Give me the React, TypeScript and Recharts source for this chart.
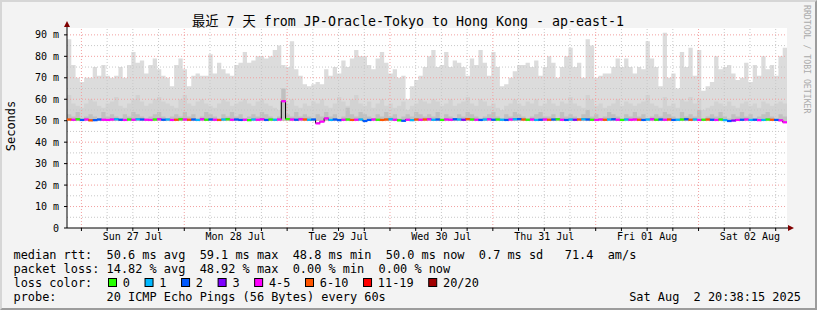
import React from 'react'
import { ComposedChart, Area, Line, Scatter, XAxis, YAxis, ReferenceLine, CartesianGrid } from 'recharts'

// hours since Sat 26 Jul 00:00; graph ends Sat Aug 2 20:38:15
const START_H = 20.6375
const SPAN_H = 168

// smoke (ms), one value per hour
const MAX_RTT = [
  88, 76, 70, 68, 70, 70, 75, 71, 76, 71, 70, 71, 75, 70, 76, 82, 77, 78, 72, 76, 79, 74, 71, 70, 66, 76, 79, 74,
  66, 71, 72, 71, 71, 81, 72, 77, 74, 72, 71, 76, 77, 82, 77, 78, 80, 80, 79, 80, 83, 85, 76, 75, 87, 74, 71, 67,
  66, 67, 68, 67, 74, 71, 75, 72, 78, 75, 79, 83, 80, 80, 76, 74, 79, 82, 77, 72, 74, 70, 71, 60, 66, 69, 71, 75,
  80, 83, 75, 76, 82, 75, 78, 77, 75, 71, 79, 76, 83, 77, 71, 82, 75, 66, 67, 70, 73, 76, 76, 77, 75, 78, 71, 75,
  80, 77, 70, 75, 80, 84, 75, 77, 70, 88, 85, 70, 71, 72, 72, 75, 79, 75, 79, 75, 72, 75, 74, 87, 79, 75, 66, 91,
  70, 72, 65, 82, 75, 84, 71, 83, 64, 66, 68, 80, 74, 75, 76, 72, 69, 70, 77, 68, 76, 71, 80, 74, 76, 71, 80, 84,
]
const MID_RTT = [
  62, 58, 57, 56, 58, 60, 59, 57, 56, 58, 59, 61, 57, 56, 58, 60, 62, 59, 57, 58, 60, 61, 59, 58, 57, 56, 60, 62,
  58, 57, 59, 60, 58, 57, 56, 58, 60, 59, 57, 58, 59, 60, 58, 57, 59, 60, 58, 57, 56, 55, 65, 58, 60, 57, 56, 58,
  57, 59, 58, 60, 57, 56, 58, 61, 59, 57, 60, 62, 58, 57, 59, 56, 58, 60, 57, 58, 56, 57, 59, 55, 57, 58, 60, 59,
  58, 60, 59, 57, 58, 60, 57, 58, 59, 61, 58, 57, 60, 59, 57, 58, 56, 55, 57, 58, 60, 58, 57, 59, 58, 60, 57, 58,
  60, 58, 57, 59, 58, 61, 58, 57, 56, 62, 60, 57, 58, 56, 57, 58, 60, 57, 59, 58, 57, 58, 59, 62, 58, 57, 56, 61,
  57, 58, 56, 60, 59, 61, 58, 60, 55, 56, 57, 59, 58, 57, 59, 57, 56, 58, 59, 57, 58, 56, 59, 58, 57, 58, 59, 58,
]
const LOW_RTT = [
  53, 52, 54, 51, 52, 53, 52, 51, 54, 52, 53, 52, 51, 53, 52, 54, 53, 52, 51, 52, 53, 54, 52, 51, 52, 53, 52, 54,
  52, 53, 51, 52, 54, 53, 52, 51, 53, 52, 54, 52, 53, 51, 52, 53, 52, 54, 53, 52, 51, 52, 65, 53, 52, 54, 52, 53,
  52, 51, 53, 52, 54, 52, 53, 51, 52, 56, 53, 52, 54, 53, 52, 51, 53, 52, 54, 52, 53, 51, 52, 53, 52, 54, 53, 52,
  53, 52, 54, 51, 53, 52, 51, 53, 52, 54, 53, 52, 51, 52, 53, 54, 52, 51, 53, 52, 54, 53, 52, 51, 52, 53, 54, 52,
  52, 53, 51, 54, 52, 53, 52, 51, 53, 55, 52, 53, 51, 52, 54, 53, 52, 51, 53, 52, 54, 52, 53, 51, 52, 53, 52, 54,
  53, 52, 51, 54, 52, 53, 52, 55, 51, 52, 53, 52, 54, 52, 51, 53, 52, 54, 52, 53, 51, 52, 53, 54, 52, 51, 53, 52,
]
const MEDIAN_RTT = [
  50.6, 50.5, 50.7, 50.4, 50.6, 50.2, 50.3, 50.6, 50.5, 50.4, 50.6, 50.7, 50.5, 50.4, 50.6, 50.5, 50.7, 50.6, 50.5, 50.4, 50.6, 50.7, 50.5, 50.6, 50.4, 50.5, 50.7, 50.6,
  50.5, 50.6, 50.4, 50.7, 50.5, 50.6, 50.5, 50.4, 50.6, 50.7, 50.5, 50.6, 50.4, 50.5, 50.3, 50.6, 50.5, 50.7, 50.4, 50.6, 50.5, 50.6, 59.1, 50.8, 50.6, 50.5, 50.7, 50.6,
  50.5, 50.6, 48.8, 49.6, 51.1, 50.4, 50.6, 50.3, 50.5, 50.6, 50.4, 50.5, 50.6, 49.9, 50.4, 50.6, 50.5, 50.4, 50.6, 50.7, 50.5, 50.2, 50.0, 50.5, 50.3, 50.6, 50.5, 50.6,
  50.7, 50.5, 50.6, 50.4, 50.6, 50.5, 50.7, 50.6, 50.5, 50.8, 50.6, 50.5, 50.4, 50.6, 50.7, 50.5, 50.6, 50.5, 50.4, 50.6, 50.7, 50.8, 50.6, 50.5, 50.6, 50.4, 50.5, 50.6,
  50.5, 50.6, 50.7, 50.5, 50.4, 50.6, 50.5, 50.6, 50.7, 50.6, 50.5, 50.4, 50.6, 50.5, 50.6, 50.7, 50.5, 50.4, 50.6, 50.5, 50.6, 50.5, 50.4, 50.6, 50.7, 50.5, 50.6, 50.5,
  50.6, 50.4, 50.5, 50.6, 50.7, 50.5, 50.6, 50.4, 50.5, 50.6, 50.5, 50.4, 50.6, 50.3, 49.9, 50.1, 50.4, 50.5, 50.6, 50.4, 50.5, 50.3, 50.4, 50.6, 50.5, 50.4, 50.2, 49.3,
]
// index into LOSS_LABELS
const LOSS_IDX = [
  5, 4, 0, 2, 4, 5, 2, 2, 4, 4, 4, 1, 2, 4, 0, 4, 1, 2, 4, 4, 0, 4, 2, 1, 4, 5, 0, 4,
  5, 2, 1, 4, 0, 2, 4, 5, 1, 0, 4, 2, 2, 4, 0, 1, 4, 4, 2, 0, 1, 4, 4, 0, 4, 2, 4, 5,
  1, 2, 4, 4, 4, 1, 2, 2, 4, 0, 5, 4, 1, 2, 2, 4, 0, 5, 5, 1, 4, 0, 2, 4, 1, 5, 4, 5,
  4, 1, 2, 0, 4, 4, 2, 1, 3, 5, 0, 4, 2, 1, 4, 2, 0, 1, 2, 4, 1, 2, 5, 0, 4, 1, 2, 4,
  5, 2, 0, 4, 2, 1, 3, 5, 1, 2, 0, 4, 4, 5, 1, 2, 4, 0, 1, 4, 4, 5, 2, 1, 4, 0, 2, 4,
  5, 2, 1, 0, 2, 5, 1, 4, 0, 5, 2, 4, 0, 1, 2, 3, 4, 2, 4, 1, 2, 4, 1, 0, 5, 2, 4, 4,
]

const LOSS_LABELS = ['0', '1', '2', '3', '4-5', '6-10', '11-19', '20/20']
const LOSS_COLORS = ['#26ff00', '#00b8ff', '#0059ff', '#7e00ff', '#ff00ff', '#ff5500', '#ff0000', '#a10000']

const DAY_LABELS = ['Sun 27 Jul', 'Mon 28 Jul', 'Tue 29 Jul', 'Wed 30 Jul', 'Thu 31 Jul', 'Fri 01 Aug', 'Sat 02 Aug']
const DAY_NOONS = [36, 60, 84, 108, 132, 156, 180]
const MIDNIGHTS = [24, 48, 72, 96, 120, 144, 168]
const SIX_HOURS = [24, 30, 36, 42, 48, 54, 60, 66, 72, 78, 84, 90, 96, 102, 108, 114, 120, 126, 132, 138, 144, 150, 156, 162, 168, 174, 180, 186]
const Y_TICKS = [0, 10, 20, 30, 40, 50, 60, 70, 80, 90]
const Y_MINOR = [5, 15, 25, 35, 45, 55, 65, 75, 85]

const STATS_RTT = 'median rtt:  50.6 ms avg  59.1 ms max  48.8 ms min  50.0 ms now  0.7 ms sd   71.4  am/s'
const STATS_LOSS = 'packet loss: 14.82 % avg  48.92 % max  0.00 % min  0.00 % now'
const PROBE = 'probe:       20 ICMP Echo Pings (56 Bytes) every 60s'
const STAMP = 'Sat Aug  2 20:38:15 2025'
const TITLE = '最近 7 天 from JP-Oracle-Tokyo to Hong Kong - ap-east-1'

const W = 817
const H = 310
const PLOT_L = 67
const PLOT_R = 787
const STEP_PX = (PLOT_R - PLOT_L) / SPAN_H
const MONO = "'DejaVu Sans Mono', 'Noto Sans CJK SC', monospace"
const LEG_FS = 11.9
const CH = LEG_FS * 0.602

const rows = MAX_RTT.map((mx, i) => ({
  t: START_H + i,
  smoke: mx,
  mid: MID_RTT[i],
  low: LOW_RTT[i],
  median: MEDIAN_RTT[i],
  loss: LOSS_IDX[i],
}))
const medianRows = rows.slice()
rows.push({ ...rows[rows.length - 1], t: START_H + SPAN_H })

function MedianSeg(props: any) {
  const { cx, cy, payload } = props
  if (cx == null || cy == null) return null
  return <rect x={cx} y={cy - 1} width={STEP_PX + 0.4} height={2.2} fill={LOSS_COLORS[payload.loss]} />
}

function xTickLabel(t: number) {
  const k = DAY_NOONS.indexOf(t)
  return k >= 0 ? DAY_LABELS[k] : ''
}

export default function App() {
  let bx = 108.5
  const lossItems = LOSS_LABELS.map((lab, i) => {
    const x = bx
    bx += (lab.length + 4.1) * CH
    return (
      <g key={lab}>
        <rect x={x} y={278.5} width={8} height={8} fill={LOSS_COLORS[i]} stroke="#000" strokeWidth={1} />
        <text x={x + 14.3} y={286.5}>{lab}</text>
      </g>
    )
  })

  return (
    <div
      style={{
        position: 'absolute',
        left: 0,
        top: 0,
        width: W,
        height: H,
        boxSizing: 'border-box',
        background: '#f3f3f3',
        borderTop: '2px solid #d6d6d6',
        borderLeft: '2px solid #d6d6d6',
        borderRight: '2px solid #9c9c9c',
        borderBottom: '2px solid #9c9c9c',
        overflow: 'hidden',
      }}
    >
      <div style={{ position: 'absolute', left: -2, top: -2 }}>
        <ComposedChart width={W} height={H} data={rows} margin={{ top: 28, right: W - PLOT_R, bottom: 52, left: 7 }}>
          <CartesianGrid horizontal={false} vertical={false} fill="#ffffff" stroke="none" />
          <XAxis
            dataKey="t"
            type="number"
            domain={[START_H, START_H + SPAN_H]}
            allowDataOverflow
            ticks={SIX_HOURS}
            interval={0}
            tickFormatter={xTickLabel}
            height={30}
            tickSize={3}
            tickMargin={2}
            stroke="#000"
            tick={{ fill: '#000', fontSize: 10, fontFamily: MONO }}
          />
          <YAxis
            type="number"
            domain={[0, 93.2]}
            allowDataOverflow
            ticks={Y_TICKS}
            interval={0}
            width={60}
            tickSize={3}
            tickMargin={5}
            stroke="#000"
            tickFormatter={(v: number) => (v === 0 ? '0' : `${v} m`)}
            tick={{ fill: '#000', fontSize: 10, fontFamily: MONO }}
          />
          <Area type="stepAfter" dataKey="smoke" baseValue={50} stroke="none" fill="#dcdcdc" fillOpacity={1} isAnimationActive={false} />
          <Area type="stepAfter" dataKey="mid" baseValue={50} stroke="none" fill="#d2d2d2" fillOpacity={1} isAnimationActive={false} />
          <Area type="stepAfter" dataKey="low" baseValue={50} stroke="none" fill="#c0c0c0" fillOpacity={1} isAnimationActive={false} />
          {Y_MINOR.map((v) => (
            <ReferenceLine key={'ym' + v} y={v} stroke="#c8c8c8" strokeDasharray="1 2" />
          ))}
          {SIX_HOURS.filter((t) => !MIDNIGHTS.includes(t)).map((t) => (
            <ReferenceLine key={'xm' + t} x={t} stroke="#c8c8c8" strokeDasharray="1 2" />
          ))}
          {Y_TICKS.filter((v) => v > 0).map((v) => (
            <ReferenceLine key={'yM' + v} y={v} stroke="#f2a0a0" strokeDasharray="1 2" />
          ))}
          {MIDNIGHTS.map((t) => (
            <ReferenceLine key={'xM' + t} x={t} stroke="#f2a0a0" strokeDasharray="1 2" />
          ))}
          <Line type="stepAfter" dataKey="median" stroke="#000" strokeWidth={1} dot={false} activeDot={false} isAnimationActive={false} />
          <Scatter data={medianRows} dataKey="median" shape={MedianSeg} isAnimationActive={false} />
        </ComposedChart>
      </div>
      <svg
        width={W}
        height={H}
        style={{ position: 'absolute', left: -2, top: -2, pointerEvents: 'none' }}
        fontFamily={MONO}
      >
        <text x={408} y={26} textAnchor="middle" fontSize={13.3} fill="#000" xmlSpace="preserve">
          {TITLE}
        </text>
        <text transform="translate(14.5,126) rotate(-90)" textAnchor="middle" fontSize={12} fill="#000">
          Seconds
        </text>
        <text transform="translate(804,5) rotate(90)" fontSize={8.2} fill="#aaaaaa">
          RRDTOOL / TOBI OETIKER
        </text>
        <line x1={PLOT_L} y1={28} x2={PLOT_L} y2={25} stroke="#000" />
        <polygon points="64,27 70,27 67,21" fill="#800000" />
        <line x1={PLOT_R} y1={228} x2={789} y2={228} stroke="#000" />
        <polygon points="788,225 788,231 794,228" fill="#800000" />
        <g fontSize={LEG_FS} fill="#000">
          <text x={13.5} y={258.5} xmlSpace="preserve">{STATS_RTT}</text>
          <text x={13.5} y={272.5} xmlSpace="preserve">{STATS_LOSS}</text>
          <text x={13.5} y={286.5}>loss color:</text>
          {lossItems}
          <text x={13.5} y={301} xmlSpace="preserve">{PROBE}</text>
          <text x={801} y={301} textAnchor="end" xmlSpace="preserve">{STAMP}</text>
        </g>
      </svg>
    </div>
  )
}
